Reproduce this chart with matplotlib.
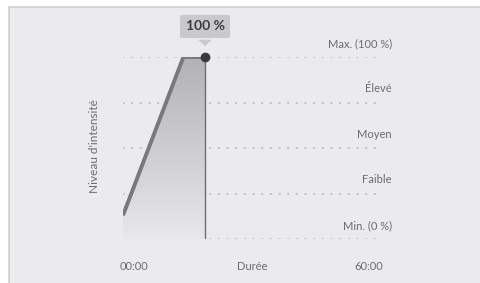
import numpy as np
import matplotlib.pyplot as plt
from matplotlib.patches import Rectangle, Polygon
from matplotlib.colors import LinearSegmentedColormap

# intensity profile (minutes, percent)
t_min = [0, 14, 19]
level = [13, 100, 100]
level_ticks = [0, 25, 50, 75, 100]
level_labels = ['Min. (0 %)', 'Faible', 'Moyen', 'Élevé', 'Max. (100 %)']
x_labels = ['00:00', 'Durée', '60:00']
x_label_pos = [2.5, 30, 57]
peak_text = '100 %'

plt.rcParams['font.family'] = ['Lato', 'DejaVu Sans']
W, H = 481, 283
fig = plt.figure(figsize=(W / 100, H / 100), dpi=100, facecolor='white')

# panel background with thin border on top/left
bg = '#ebebed'
fig.patches.append(Rectangle((9 / W, -0.1), 1, 1.1 - 7 / H, transform=fig.transFigure,
                             facecolor=bg, edgecolor='#cfcfd1', lw=1.2, zorder=-5))

ax = fig.add_axes([123 / W, (H - 239) / H, 259 / W, 182 / H])
ax.set_xlim(0, 60)
ax.set_ylim(0, 100)
ax.axis('off')

txt_col = '#6c6c6e'

# dotted grid
for v in level_ticks:
    ax.plot([0, 60], [v, v], ls=(0, (0.6, 4.6)), color='#bdbdc0', lw=1.2,
            dash_capstyle='round', zorder=1)

# right-side level labels
for v, lab in zip(level_ticks, level_labels):
    ax.text(62.3, v + 7.5, lab, ha='right', va='center', fontsize=8, color=txt_col)

# gradient fill under the curve
xs = t_min + [t_min[-1], t_min[0]]
ys = level + [0, 0]
poly = Polygon(list(zip(xs, ys)), closed=True, facecolor='none', edgecolor='none')
ax.add_patch(poly)
grad = np.linspace(0, 1, 256).reshape(-1, 1)
im = ax.imshow(grad, extent=[0, t_min[-1], 0, 100], origin='lower', aspect='auto',
               cmap=LinearSegmentedColormap.from_list('g', ['#e8e8ea', '#b2b2b5']), zorder=2)
im.set_clip_path(poly)

# vertical marker line and profile
ax.plot([t_min[-1], t_min[-1]], [0, level[-1]], color='#6e6e70', lw=1.0, zorder=3)
ax.plot(t_min, level, color='#79797b', lw=2.8, solid_capstyle='butt', zorder=4)
ax.plot(t_min[-1], level[-1], 'o', color='#3a3a3c', ms=6, zorder=5, clip_on=False)

# callout bubble
ax.annotate(peak_text, xy=(t_min[-1], level[-1]), xytext=(0, 22), textcoords='offset points',
            ha='center', va='center', fontsize=10, fontweight='bold', color='#3c3c3e',
            bbox=dict(boxstyle='round,pad=0.4,rounding_size=0.15', fc='#c9c9cc', ec='none'),
            zorder=6)
ax.add_patch(Polygon([(t_min[-1] - 1.6, 109.5), (t_min[-1] + 1.6, 109.5), (t_min[-1], 106)],
                     closed=True, facecolor='#c9c9cc', edgecolor='none', clip_on=False, zorder=6))

# x labels
for xp, lab in zip(x_label_pos, x_labels):
    ax.text(xp, -15, lab, ha='center', va='center', fontsize=8, color=txt_col)

# y axis title
fig.text(95 / W, 1 - 146 / H, "Niveau d'intensité", rotation=90, ha='center', va='center',
         fontsize=8.5, color=txt_col)

fig.savefig('out.png', dpi=100, facecolor='white')
